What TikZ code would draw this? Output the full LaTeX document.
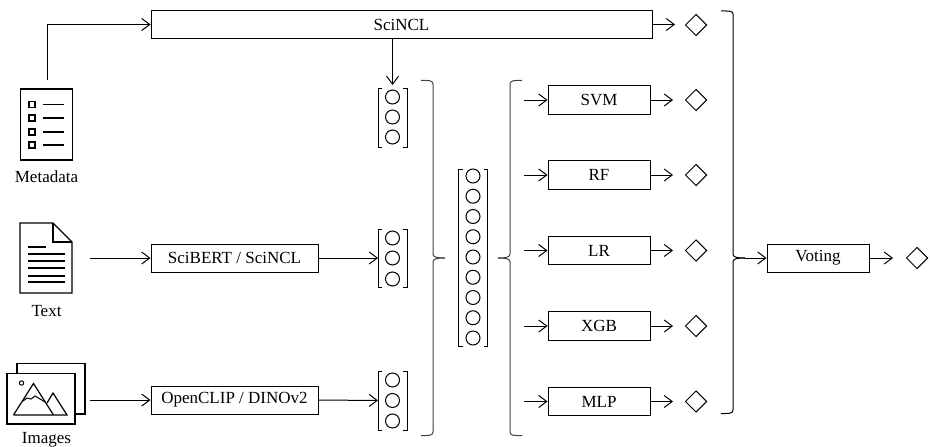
\documentclass[tikz,border=0pt]{standalone}
\usepackage{fontspec}
\setmainfont{Liberation Serif}
\usetikzlibrary{arrows.meta,shapes.geometric,positioning}
\tikzset{
  ln/.style={line width=1pt,black},
  arr/.style={ln,-{Straight Barb[length=8pt,width=12pt,line width=1pt]}},
  brc/.style={line width=1pt,black!75,line join=round},
  boxn/.style={draw,line width=1pt,rectangle,inner sep=0pt,font=\fontsize{17}{17}\selectfont},
  dia/.style={draw,line width=1pt,diamond,minimum width=21.5pt,minimum height=21.5pt,inner sep=0pt},
  circ/.style={draw,line width=1pt,circle,minimum size=14pt,inner sep=0pt},
  lab/.style={font=\fontsize{17}{17}\selectfont,inner sep=0pt},
  icon/.style={line width=1.3pt,line join=miter},
  bar/.style={line width=1.4pt}
}
\newcommand{\vecbr}[4]{% name, x, ytop, ybottom
  \draw[ln] (#2-14.5+4,#3) -- (#2-14.5,#3) -- (#2-14.5,#4) -- (#2-14.5+4,#4);
  \draw[ln] (#2+14.5-4,#3) -- (#2+14.5,#3) -- (#2+14.5,#4) -- (#2+14.5-4,#4);
  \coordinate (#1w) at (#2-14.5,#3/2+#4/2);
  \coordinate (#1n) at (#2,#3);
  \coordinate (#1e) at (#2+14.5,#3/2+#4/2);
}
\begin{document}
\begin{tikzpicture}[x=1pt,y=-1pt]
\useasboundingbox (0,0) rectangle (930,447);
% Metadata icon
\node[draw,icon,minimum width=52pt,minimum height=71pt,inner sep=0pt] (meta) at (46.5,124.5) {};
\foreach \y in {104.5,118,132,145}{
  \draw[line width=1.6pt] (29,\y-3) rectangle (35,\y+3);
  \draw[bar] (43,\y) -- (64,\y);
}
\node[lab] (metal) at (46.5,177) {Metadata};
% Text icon
\draw[icon] (20,223) -- (53,223) -- (72,242) -- (72,293) -- (20,293) -- cycle;
\draw[icon] (53,223) -- (53,242) -- (72,242);
\draw[bar] (28,247) -- (46,247);
\foreach \y in {254,261,268,276,282}{\draw[bar] (28,\y) -- (65,\y);}
\node[lab] (textl) at (46.5,311) {Text};
\coordinate (texto) at (90,258);
% Images icon
\draw[icon] (17,373) -- (17,363.5) -- (85,363.5) -- (85,414) -- (75,414);
\draw[icon] (7,373.5) rectangle (75,424);
\draw[line width=1pt] (21.5,383) circle (2.2);
\draw[icon,line width=1.2pt] (13.5,415) -- (33.5,383.5) -- (53.5,415);
\draw[line width=1.2pt] (13.5,415) -- (67,415) -- (53,393) -- (47,403);
\draw[line width=1pt] (23,401) -- (27,398) -- (31,399) -- (35,396) -- (41,399.5) -- (45,402);
\node[lab] (imgl) at (46.5,440) {Images};
\coordinate (imgo) at (90,400);
\coordinate (metao) at (47,80);
% Model boxes
\node[boxn,minimum width=501pt,minimum height=28pt] (sci) at (401.5,24.5) {SciNCL};
\node[boxn,minimum width=167pt,minimum height=28pt] (bert) at (234.5,258) {SciBERT / SciNCL};
\node[boxn,minimum width=167pt,minimum height=28pt] (clip) at (234.5,400) {OpenCLIP / DINOv2};
% Vectors
\vecbr{va}{392.5}{88}{147}
\foreach \y in {97,117,137}{\node[circ] at (392.5,\y) {};}
\vecbr{vb}{392.5}{229}{287}
\foreach \y in {238,258,279}{\node[circ] at (392.5,\y) {};}
\vecbr{vc}{392.5}{371}{430}
\foreach \y in {380,400.5,421}{\node[circ] at (392.5,\y) {};}
\vecbr{vd}{473}{169}{346}
\foreach \i in {0,...,8}{\node[circ] at (473,176+\i*20.25) {};}
% Arrows left
\draw[arr] (metao) -- (47,24.5) -- (sci.west);
\draw[arr,shorten >=3pt] (sci.south -| van) -- (van);
\draw[arr] (texto) -- (bert.west);
\draw[arr] (bert.east) -- (vbw);
\draw[arr] (imgo) -- (clip.west);
\draw[arr] (clip.east) -- (vcw);
% Braces
\draw[brc] (421,80.5) .. controls (428,80.5) and (433,80) .. (433,84) -- (433,254) .. controls (433,257) and (436,258) .. (445,258);
\draw[brc] (445,258) .. controls (436,258) and (433,259) .. (433,262) -- (433,432) .. controls (433,436) and (428,435.5) .. (421,435.5);
\draw[brc] (522,80.5) .. controls (515,80.5) and (510,80) .. (510,84) -- (510,254) .. controls (510,257) and (507,258) .. (498,258);
\draw[brc] (498,258) .. controls (507,258) and (510,259) .. (510,262) -- (510,432) .. controls (510,436) and (515,435.5) .. (522,435.5);
\draw[ln] (721,11) .. controls (728,11) and (733,10.5) .. (733,14) -- (733,254) .. controls (733,257) and (736,258) .. (745,258);
\draw[ln] (745,258) .. controls (736,258) and (733,259) .. (733,262) -- (733,410) .. controls (733,414) and (728,413.5) .. (721,413.5);
% Classifiers
\foreach \n/\t/\y in {svm/SVM/100,rf/RF/175,lr/LR/250.5,xgb/XGB/326,mlp/MLP/401.5}{
  \node[boxn,minimum width=102pt,minimum height=28.5pt] (\n) at (599,\y) {\t};
  \coordinate (\n i) at (524,\y);
  \coordinate (\n o) at (673,\y);
  \node[dia] (\n d) at (696,\y) {};
  \draw[arr] (\n i) -- (\n);
  \draw[arr] (\n) -- (\n o);
}
\node[dia] (scid) at (696,25) {};
\coordinate (scio) at (675,24.5);
\draw[arr] (sci.east) -- (scio);
% Voting
\node[boxn,minimum width=102pt,minimum height=28pt] (vote) at (818,258) {Voting};
\coordinate (votei) at (745,258);
\coordinate (voteo) at (893,258);
\draw[arr] (votei) -- (vote);
\node[dia] (voted) at (917,258) {};
\draw[arr] (vote) -- (voteo);
\end{tikzpicture}
\end{document}
